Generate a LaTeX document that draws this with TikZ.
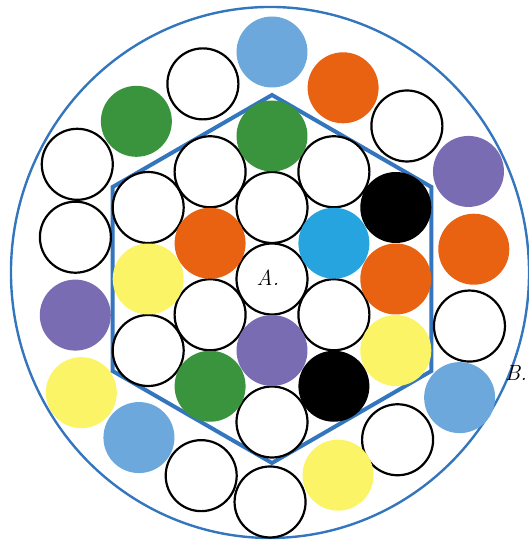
\documentclass[tikz,border=0pt]{standalone}
\usepackage{tikz}
\usetikzlibrary{calc}
\definecolor{rimblue}{RGB}{52,118,190}
\definecolor{skyblue}{RGB}{108,168,220}
\definecolor{cyanblue}{RGB}{38,164,224}
\definecolor{discorange}{RGB}{232,98,18}
\definecolor{discgreen}{RGB}{58,148,62}
\definecolor{discpurple}{RGB}{122,108,178}
\definecolor{discyellow}{RGB}{250,244,102}

\begin{document}
\begin{tikzpicture}[x=1pt, y=1pt,
    ring/.style={draw=black, fill=white, line width=2.2pt},
    hexline/.style={draw=rimblue, line width=4pt},
    rim/.style={draw=rimblue, line width=2.4pt},
    every node/.style={font=\fontsize{22}{26}\selectfont\itshape}]
  \useasboundingbox (-272,-262) rectangle (257,279);
  \clip (-272,-262) rectangle (257,279);
  % outer boundary, open next to B.
  \draw[rim] (-2,6.5) ++(-27.5:259 and 265.5)
    arc[start angle=-27.5, end angle=343.5, x radius=259, y radius=265.5];
  \draw[hexline] (90:184) -- (150:184) -- (210:184) -- (270:184)
    -- (330:184) -- (30:184) -- cycle;
  % outer ring
  \foreach \t/\r in {109.5/207, 149.5/226, 168/201, 250.2/209, 269.5/223,
      308/204, 346.6/203, 48.6/204}
    \draw[ring] (\t:\r) circle (35.5);
  \foreach \t/\r/\c in {90/227/skyblue, 130.7/208/discgreen, 190.4/200/discpurple,
      210.8/222/discyellow, 230/207/skyblue, 288.6/207/discyellow,
      327.7/222/skyblue, 8.4/204/discorange, 28.7/224/discpurple,
      69.6/204/discorange}
    \fill[\c] (\t:\r) circle (35.5);
  % core, hexagonal packing
  \foreach \a/\b in {-2/2, -2/0, -1/2, -1/0, 0/1, 0/0, 0/-2, 1/1, 1/-1}
    \draw[ring] ({\a*61.9},{\a*35.75+\b*71.5}) circle (35.5);
  \foreach \a/\b/\c in {-2/1/discyellow, -1/1/discorange, -1/-1/discgreen,
      0/2/discgreen, 0/-1/discpurple, 1/0/cyanblue, 1/-2/black, 2/0/black,
      2/-1/discorange, 2/-2/discyellow}
    \fill[\c] ({\a*61.9},{\a*35.75+\b*71.5}) circle (35.5);
  \node (coreA) at (-4,1) {A.};
  \node (labelB) at (244,-94) {B.};
\end{tikzpicture}
\end{document}
